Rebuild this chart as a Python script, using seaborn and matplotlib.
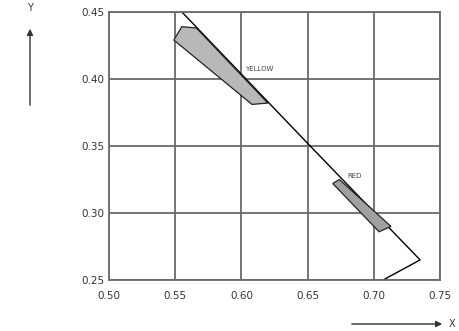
import matplotlib
matplotlib.use("Agg")
import matplotlib.pyplot as plt
import seaborn as sns
import pandas as pd
from matplotlib.patches import Polygon

# Data
locus_x = [0.555, 0.650, 0.735, 0.707]
locus_y = [0.450, 0.352, 0.265, 0.250]
yellow_x = [0.549, 0.555, 0.566, 0.620, 0.608]
yellow_y = [0.429, 0.439, 0.438, 0.382, 0.381]
red_x = [0.669, 0.674, 0.713, 0.704]
red_y = [0.322, 0.325, 0.290, 0.286]
x_ticks = [0.50, 0.55, 0.60, 0.65, 0.70, 0.75]
y_ticks = [0.25, 0.30, 0.35, 0.40, 0.45]
x_tick_labels = ["0.50", "0.55", "0.60", "0.65", "0.70", "0.75"]
y_tick_labels = ["0.25", "0.30", "0.35", "0.40", "0.45"]

sns.set_style("white")
plt.rcParams['font.family'] = ['DejaVu Sans']

fig = plt.figure(figsize=(4.59, 3.31), dpi=100)
ax = fig.add_axes([0.2375, 0.154, 0.721, 0.810])

df = pd.DataFrame({"x": locus_x, "y": locus_y})
sns.lineplot(data=df, x="x", y="y", sort=False, estimator=None, color="black", lw=1.0, ax=ax)

ax.add_patch(Polygon(list(zip(yellow_x, yellow_y)), closed=True, facecolor="#b8b8b8",
                     edgecolor="#222222", lw=0.9, zorder=3))
ax.add_patch(Polygon(list(zip(red_x, red_y)), closed=True, facecolor="#a0a0a0",
                     edgecolor="#222222", lw=0.9, zorder=3))

ax.text(0.603, 0.4075, "YELLOW", fontsize=5, color="#444444", ha="left", va="center")
ax.text(0.680, 0.3275, "RED", fontsize=5, color="#444444", ha="left", va="center")

ax.set_xlim(0.50, 0.75)
ax.set_ylim(0.25, 0.45)
ax.set_xticks(x_ticks)
ax.set_xticklabels(x_tick_labels)
ax.set_yticks(y_ticks)
ax.set_yticklabels(y_tick_labels)
ax.grid(True, color="#6a6a6a", lw=1.3)
ax.set_axisbelow(True)
for s in ax.spines.values():
    s.set_color("#6a6a6a")
    s.set_linewidth(1.3)
ax.tick_params(axis="both", length=0, labelsize=7.5, colors="#333333")
ax.tick_params(axis="x", pad=8)
ax.tick_params(axis="y", pad=3)
ax.set_xlabel("")
ax.set_ylabel("")

# Axis arrows
fig.text(30 / 459, 1 - 8 / 331, "Y", fontsize=7, ha="center", va="center", color="#333333")
ax.annotate("", xy=(30 / 459, 1 - 26 / 331), xytext=(30 / 459, 1 - 108 / 331),
            xycoords="figure fraction", textcoords="figure fraction",
            arrowprops=dict(arrowstyle="-|>", color="#333333", lw=1.0, mutation_scale=9))
fig.text(452 / 459, 1 - 324 / 331, "X", fontsize=7, ha="center", va="center", color="#333333")
ax.annotate("", xy=(445 / 459, 1 - 324 / 331), xytext=(349 / 459, 1 - 324 / 331),
            xycoords="figure fraction", textcoords="figure fraction",
            arrowprops=dict(arrowstyle="-|>", color="#333333", lw=1.0, mutation_scale=9))

fig.savefig("out.png", dpi=100)
